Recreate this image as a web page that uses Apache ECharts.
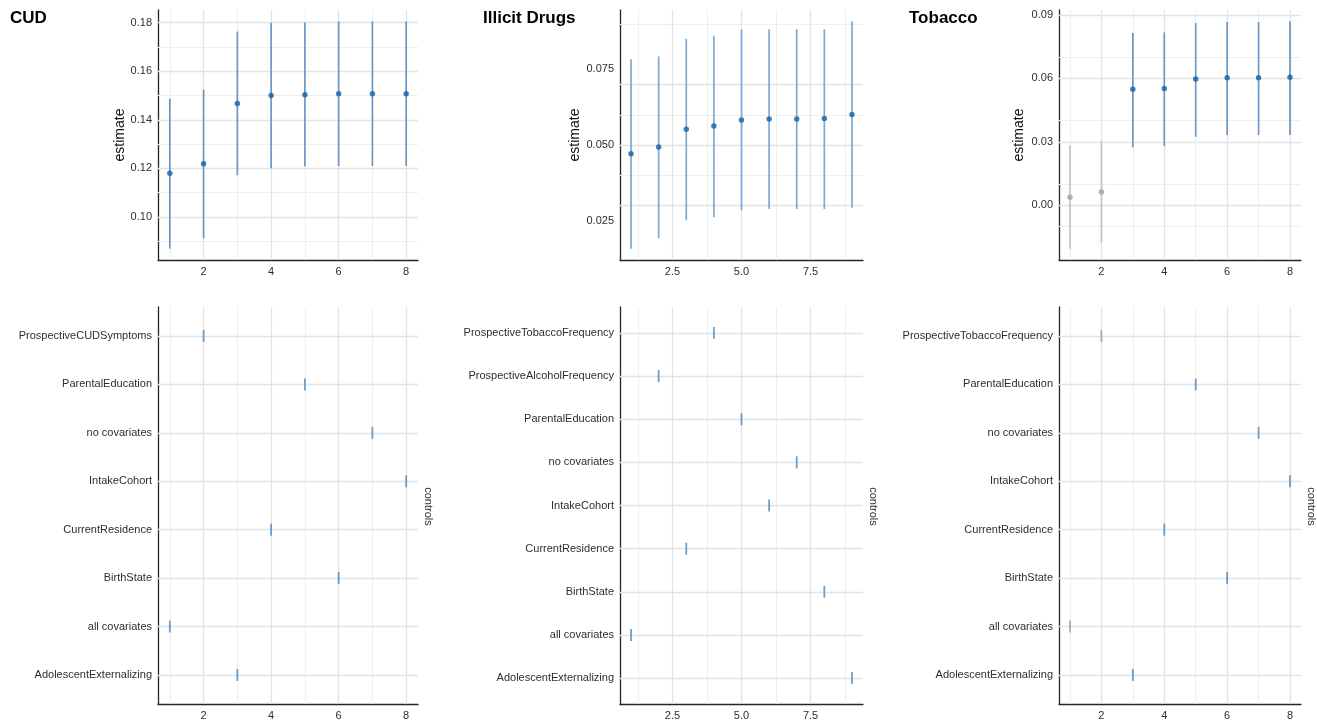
<!DOCTYPE html>
<html>
<head>
<meta charset="utf-8">
<script src="https://cdn.jsdelivr.net/npm/echarts@6/dist/echarts.min.js"></script>
<style>html,body{margin:0;padding:0;background:#fff}#c{width:1317px;height:721px}</style>
</head>
<body>
<div id="c"></div>
<script>
// ---------------- DATA ----------------
// CUD
const cudSpec  = [1, 2, 3, 4, 5, 6, 7, 8];
const cudEst   = [0.1180, 0.1219, 0.1467, 0.1500, 0.1503, 0.1507, 0.1507, 0.1507];
const cudLow   = [0.0870, 0.0912, 0.1172, 0.1201, 0.1208, 0.1210, 0.1210, 0.1210];
const cudHigh  = [0.1487, 0.1524, 0.1763, 0.1799, 0.1800, 0.1805, 0.1805, 0.1805];
const cudControls = ['AdolescentExternalizing', 'all covariates', 'BirthState', 'CurrentResidence',
  'IntakeCohort', 'no covariates', 'ParentalEducation', 'ProspectiveCUDSymptoms'];
const cudControlSpec = [3, 1, 6, 4, 8, 7, 5, 2];
const cudXTicks = ['2', '4', '6', '8'];
const cudYTicks = ['0.10', '0.12', '0.14', '0.16', '0.18'];

// Illicit Drugs
const illSpec  = [1, 2, 3, 4, 5, 6, 7, 8, 9];
const illEst   = [0.0471, 0.0493, 0.0552, 0.0563, 0.0583, 0.0586, 0.0586, 0.0588, 0.0601];
const illLow   = [0.0157, 0.0192, 0.0251, 0.0261, 0.0284, 0.0288, 0.0288, 0.0288, 0.0292];
const illHigh  = [0.0784, 0.0793, 0.0851, 0.0861, 0.0882, 0.0883, 0.0883, 0.0883, 0.0909];
const illControls = ['AdolescentExternalizing', 'all covariates', 'BirthState', 'CurrentResidence',
  'IntakeCohort', 'no covariates', 'ParentalEducation', 'ProspectiveAlcoholFrequency', 'ProspectiveTobaccoFrequency'];
const illControlSpec = [9, 1, 8, 3, 6, 7, 5, 2, 4];
const illXTicks = ['2.5', '5.0', '7.5'];
const illYTicks = ['0.025', '0.050', '0.075'];

// Tobacco
const tobSpec  = [1, 2, 3, 4, 5, 6, 7, 8];
const tobEst   = [0.0038, 0.0063, 0.0549, 0.0553, 0.0597, 0.0603, 0.0603, 0.0606];
const tobLow   = [-0.0205, -0.0177, 0.0275, 0.0280, 0.0324, 0.0332, 0.0332, 0.0333];
const tobHigh  = [0.0284, 0.0305, 0.0815, 0.0818, 0.0862, 0.0867, 0.0867, 0.0870];
const tobControls = ['AdolescentExternalizing', 'all covariates', 'BirthState', 'CurrentResidence',
  'IntakeCohort', 'no covariates', 'ParentalEducation', 'ProspectiveTobaccoFrequency'];
const tobControlSpec = [3, 1, 6, 4, 8, 7, 5, 2];
const tobXTicks = ['2', '4', '6', '8'];
const tobYTicks = ['0.00', '0.03', '0.06', '0.09'];

const titles = ['CUD', 'Illicit Drugs', 'Tobacco'];
const yName = 'estimate';
const stripName = 'controls';

// ---------------- STYLE / LAYOUT ----------------
const FONT = '"Liberation Sans", Arial, Helvetica, sans-serif';
const POINT_BLUE = '#0f63aa';
const CI_BLUE = ['#6b98c4', '#7fa8d2', '#6b98c4'];
const TICK_BLUE = '#4687bf';
const GREY_POINT = '#a3a3a3';
const GREY_CI = '#c4c4c4';
const MAJOR = '#e3e3e3';
const MINOR = '#eeeeee';
const AXIS = '#262626';
const LABEL = '#2e2e2e';

const layout = [
  { left: 158, width: 260, titleLeft: 10,  nameGap: 31, stripX: 428 },
  { left: 620, width: 243, titleLeft: 483, nameGap: 38, stripX: 873 },
  { left: 1059, width: 242, titleLeft: 909, nameGap: 33, stripX: 1311 }
];
const TOP_Y = 10, TOP_H = 250, BOT_Y = 307, BOT_H = 399;

const panels = [
  { spec: cudSpec, est: cudEst, low: cudLow, high: cudHigh, controls: cudControls, cspec: cudControlSpec, xt: cudXTicks, yt: cudYTicks },
  { spec: illSpec, est: illEst, low: illLow, high: illHigh, controls: illControls, cspec: illControlSpec, xt: illXTicks, yt: illYTicks },
  { spec: tobSpec, est: tobEst, low: tobLow, high: tobHigh, controls: tobControls, cspec: tobControlSpec, xt: tobXTicks, yt: tobYTicks }
];

function expand(lo, hi, f) { const d = (hi - lo) * f; return [lo - d, hi + d]; }
function lookup(vals, labels) {
  return function (v) {
    for (let i = 0; i < vals.length; i++) if (Math.abs(vals[i] - v) < 1e-9) return labels[i];
    return '';
  };
}
function minors(majors, lo, hi) {
  const step = majors[1] - majors[0];
  const out = [];
  for (let k = -10; k < majors.length + 10; k++) {
    const v = majors[0] + step * k + step / 2;
    if (v > lo && v < hi) out.push(v);
  }
  return out;
}
function isNonSig(lo, hi) { return lo < 0 && hi > 0; }

const grid = [], xAxis = [], yAxis = [], series = [], title = [], graphic = [];

function valueAxis(gridIndex, range, vals, labels, extra) {
  return Object.assign({
    gridIndex: gridIndex, type: 'value', min: range[0], max: range[1],
    axisLine: { show: true, onZero: false, lineStyle: { color: AXIS, width: 1.3 } },
    axisTick: { show: false },
    splitLine: { show: false },
    axisLabel: {
      customValues: vals, formatter: lookup(vals, labels),
      color: LABEL, fontSize: 11, fontFamily: FONT, margin: 6
    }
  }, extra || {});
}

panels.forEach(function (p, i) {
  const L = layout[i];
  const gTop = 2 * i, gBot = 2 * i + 1;
  grid.push({ left: L.left, top: TOP_Y, width: L.width, height: TOP_H });
  grid.push({ left: L.left, top: BOT_Y, width: L.width, height: BOT_H });

  const xr = expand(Math.min.apply(null, p.spec), Math.max.apply(null, p.spec), 0.05);
  const yr = expand(Math.min.apply(null, p.low), Math.max.apply(null, p.high), 0.05);
  const xv = p.xt.map(parseFloat), yv = p.yt.map(parseFloat);
  const n = p.controls.length;
  const rows = p.controls.map(function (c, r) { return r + 1; });

  xAxis.push(valueAxis(gTop, xr, xv, p.xt, {}));
  yAxis.push(valueAxis(gTop, yr, yv, p.yt, {
    name: yName, nameLocation: 'middle', nameGap: L.nameGap,
    nameTextStyle: { color: '#111', fontSize: 14, fontFamily: FONT }
  }));
  xAxis.push(valueAxis(gBot, xr, xv, p.xt, {}));
  yAxis.push(valueAxis(gBot, [0.4, n + 0.6], rows, p.controls, {}));

  const gridLine = function (axisKey, v, major) {
    const o = { lineStyle: { color: major ? MAJOR : MINOR, width: major ? 1.3 : 1, type: 'solid' } };
    o[axisKey] = v;
    return o;
  };
  const topLines = []
    .concat(minors(xv, xr[0], xr[1]).map(function (v) { return gridLine('xAxis', v, false); }))
    .concat(minors(yv, yr[0], yr[1]).map(function (v) { return gridLine('yAxis', v, false); }))
    .concat(xv.map(function (v) { return gridLine('xAxis', v, true); }))
    .concat(yv.map(function (v) { return gridLine('yAxis', v, true); }));
  const botLines = []
    .concat(minors(xv, xr[0], xr[1]).map(function (v) { return gridLine('xAxis', v, false); }))
    .concat(xv.map(function (v) { return gridLine('xAxis', v, true); }))
    .concat(rows.map(function (v) { return gridLine('yAxis', v, true); }));
  const mk = function (data) {
    return { silent: true, symbol: ['none', 'none'], label: { show: false }, z: 1, animation: false, data: data };
  };

  // error bars
  series.push({
    type: 'custom', xAxisIndex: gTop, yAxisIndex: gTop, z: 2,
    encode: { x: 0, y: [1, 2] },
    data: p.spec.map(function (s, j) { return [s, p.low[j], p.high[j]]; }),
    renderItem: function (params, api) {
      const lo = api.value(1), hi = api.value(2);
      const a = api.coord([api.value(0), lo]);
      const b = api.coord([api.value(0), hi]);
      return {
        type: 'line',
        shape: { x1: a[0], y1: a[1], x2: b[0], y2: b[1] },
        style: { stroke: isNonSig(lo, hi) ? GREY_CI : CI_BLUE[i], lineWidth: 1.7 }
      };
    },
    markLine: mk(topLines)
  });
  // points
  series.push({
    type: 'scatter', xAxisIndex: gTop, yAxisIndex: gTop, z: 3,
    symbol: 'circle', symbolSize: 5.5,
    data: p.spec.map(function (s, j) { return [s, p.est[j]]; }),
    itemStyle: {
      color: function (prm) {
        const j = prm.dataIndex;
        return isNonSig(p.low[j], p.high[j]) ? GREY_POINT : POINT_BLUE;
      }
    }
  });
  // control ticks
  series.push({
    type: 'scatter', xAxisIndex: gBot, yAxisIndex: gBot, z: 3,
    symbol: 'rect', symbolSize: [1.8, 12],
    data: p.cspec.map(function (s, r) { return [s, r + 1]; }),
    itemStyle: {
      color: function (prm) {
        const s = p.cspec[prm.dataIndex];
        const j = p.spec.indexOf(s);
        return isNonSig(p.low[j], p.high[j]) ? '#9a9a9a' : TICK_BLUE;
      }
    },
    markLine: mk(botLines)
  });

  title.push({
    text: titles[i], left: L.titleLeft, top: 10, padding: 0,
    textStyle: { fontSize: 17, fontWeight: 'bold', color: '#000', fontFamily: FONT }
  });
  graphic.push({
    type: 'text', x: L.stripX, y: BOT_Y + BOT_H / 2, rotation: -Math.PI / 2,
    style: { text: stripName, fill: LABEL, font: '11px ' + FONT, align: 'center', verticalAlign: 'middle' }
  });
});

const chart = echarts.init(document.getElementById('c'), null, { renderer: 'canvas' });
chart.setOption({
  animation: false,
  backgroundColor: '#ffffff',
  title: title,
  grid: grid,
  xAxis: xAxis,
  yAxis: yAxis,
  series: series,
  graphic: graphic
});
</script>
</body>
</html>
